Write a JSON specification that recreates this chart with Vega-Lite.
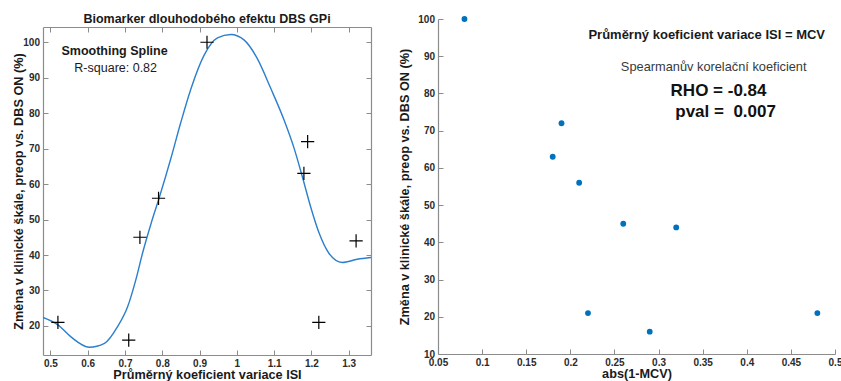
{
  "$schema": "https://vega.github.io/schema/vega-lite/v6.json",
  "padding": {"left": 12, "top": 12, "right": 0, "bottom": 0},
  "spacing": 26,
  "bounds": "full",
  "config": {
    "font": "Liberation Sans",
    "view": {"stroke": null},
    "axis": {
      "grid": false,
      "labelFont": "Liberation Sans",
      "labelFontSize": 10,
      "labelFontWeight": "bold",
      "labelColor": "#2b2b2b",
      "titleFont": "Liberation Sans",
      "titleFontSize": 12.7,
      "titleFontWeight": "bold",
      "titleColor": "#1a1a1a",
      "domainColor": "#8c8c8c",
      "domainWidth": 1.2,
      "tickColor": "#8c8c8c",
      "tickWidth": 1,
      "tickSize": -5,
      "labelPadding": 8.5,
      "labelExpr": "'' + datum.value",
      "labelFlush": false,
      "labelOverlap": false,
      "labelBound": false
    },
    "title": {"font": "Liberation Sans", "fontSize": 12.5, "fontWeight": "bold", "color": "#1a1a1a", "offset": 1.5}
  },
  "datasets": {
    "patients": [
      {"mcv": 0.52, "dmcv": 0.48, "change": 21},
      {"mcv": 0.71, "dmcv": 0.29, "change": 16},
      {"mcv": 0.74, "dmcv": 0.26, "change": 45},
      {"mcv": 0.79, "dmcv": 0.21, "change": 56},
      {"mcv": 0.92, "dmcv": 0.08, "change": 100},
      {"mcv": 1.18, "dmcv": 0.18, "change": 63},
      {"mcv": 1.19, "dmcv": 0.19, "change": 72},
      {"mcv": 1.22, "dmcv": 0.22, "change": 21},
      {"mcv": 1.32, "dmcv": 0.32, "change": 44}
    ],
    "spline": [
      {"mcv": 0.48, "change": 22.4},
      {"mcv": 0.52, "change": 20.3},
      {"mcv": 0.555, "change": 16.9},
      {"mcv": 0.604, "change": 14.0},
      {"mcv": 0.645, "change": 15.1},
      {"mcv": 0.68, "change": 19.8},
      {"mcv": 0.707, "change": 25.4},
      {"mcv": 0.729, "change": 33.0},
      {"mcv": 0.747, "change": 40.5},
      {"mcv": 0.77, "change": 48.9},
      {"mcv": 0.792, "change": 56.2},
      {"mcv": 0.823, "change": 67.2},
      {"mcv": 0.85, "change": 77.5},
      {"mcv": 0.877, "change": 86.9},
      {"mcv": 0.912, "change": 96.3},
      {"mcv": 0.948, "change": 101.2},
      {"mcv": 0.984, "change": 102.2},
      {"mcv": 1.02, "change": 100.6},
      {"mcv": 1.055, "change": 95.4},
      {"mcv": 1.091, "change": 87.0},
      {"mcv": 1.127, "change": 78.0},
      {"mcv": 1.154, "change": 70.0},
      {"mcv": 1.176, "change": 62.0},
      {"mcv": 1.198, "change": 53.6},
      {"mcv": 1.221, "change": 46.1},
      {"mcv": 1.247, "change": 40.5},
      {"mcv": 1.283, "change": 37.9},
      {"mcv": 1.323, "change": 38.8},
      {"mcv": 1.36, "change": 39.3}
    ]
  },
  "hconcat": [
    {
      "width": 328,
      "height": 328,
      "title": {"text": "Biomarker dlouhodobého efektu DBS GPi"},
      "layer": [
        {
          "data": {"name": "spline"},
          "mark": {"type": "line", "interpolate": "monotone", "color": "#2b7fcc", "strokeWidth": 1.4, "clip": true},
          "encoding": {
            "x": {"field": "mcv", "type": "quantitative", "scale": {"domain": [0.48, 1.36], "nice": false, "zero": false},
                  "axis": {"values": [0.5, 0.6, 0.7, 0.8, 0.9, 1, 1.1, 1.2, 1.3], "title": "Průměrný koeficient variace ISI", "titlePadding": 0, "labelOverlap": false}},
            "y": {"field": "change", "type": "quantitative", "scale": {"domain": [11.8, 104.3], "nice": false, "zero": false},
                  "axis": {"values": [20, 30, 40, 50, 60, 70, 80, 90, 100], "title": "Změna v klinické škále, preop vs. DBS ON (%)", "titlePadding": -3, "labelOverlap": false}}
          }
        },
        {
          "data": {"name": "patients"},
          "mark": {"type": "point", "shape": "M-1,0L1,0M0,-1L0,1", "size": 175, "filled": false, "stroke": "#000000", "strokeWidth": 1.2, "opacity": 1},
          "encoding": {
            "x": {"field": "mcv", "type": "quantitative", "scale": {"domain": [0.48, 1.36], "nice": false, "zero": false},
                  "axis": {"orient": "top", "labels": false, "title": null, "values": [0.5, 0.6, 0.7, 0.8, 0.9, 1, 1.1, 1.2, 1.3]}},
            "y": {"field": "change", "type": "quantitative", "scale": {"domain": [11.8, 104.3], "nice": false, "zero": false},
                  "axis": {"orient": "right", "labels": false, "title": null, "values": [20, 30, 40, 50, 60, 70, 80, 90, 100]}}
          }
        },
        {
          "data": {"values": [{"mcv": 0.672, "change": 97.5, "label": "Smoothing Spline"}]},
          "mark": {"type": "text", "font": "Liberation Sans", "fontSize": 12.5, "fontWeight": "bold", "color": "#1a1a1a", "align": "center", "baseline": "middle"},
          "encoding": {
            "x": {"field": "mcv", "type": "quantitative", "scale": {"domain": [0.48, 1.36], "nice": false, "zero": false}, "axis": null},
            "y": {"field": "change", "type": "quantitative", "scale": {"domain": [11.8, 104.3], "nice": false, "zero": false}, "axis": null},
            "text": {"field": "label"}
          }
        },
        {
          "data": {"values": [{"mcv": 0.675, "change": 92.7, "label": "R-square: 0.82"}]},
          "mark": {"type": "text", "font": "Liberation Sans", "fontSize": 12.5, "fontWeight": "normal", "color": "#1a1a1a", "align": "center", "baseline": "middle"},
          "encoding": {
            "x": {"field": "mcv", "type": "quantitative", "scale": {"domain": [0.48, 1.36], "nice": false, "zero": false}, "axis": null},
            "y": {"field": "change", "type": "quantitative", "scale": {"domain": [11.8, 104.3], "nice": false, "zero": false}, "axis": null},
            "text": {"field": "label"}
          }
        }
      ],
      "resolve": {"axis": {"x": "independent", "y": "independent"}}
    },
    {
      "width": 397,
      "height": 327,
      "layer": [
        {
          "data": {"name": "patients"},
          "mark": {"type": "circle", "size": 34, "color": "#0072BD", "opacity": 1},
          "encoding": {
            "x": {"field": "dmcv", "type": "quantitative", "scale": {"domain": [0.05, 0.5], "nice": false, "zero": false},
                  "axis": {"values": [0.05, 0.1, 0.15, 0.2, 0.25, 0.3, 0.35, 0.4, 0.45, 0.5], "title": "abs(1-MCV)", "titlePadding": 0, "labelOverlap": false}},
            "y": {"field": "change", "type": "quantitative", "scale": {"domain": [10, 100], "range": [327, -8], "nice": false, "zero": false},
                  "axis": {"values": [10, 20, 30, 40, 50, 60, 70, 80, 90, 100], "title": "Změna v klinické škále, preop vs. DBS ON (%)", "titlePadding": 6.5, "labelOverlap": false}}
          }
        },
        {
          "data": {"values": [{"dmcv": 0.3546, "change": 95.7, "label": "Průměrný koeficient variace ISI = MCV"}]},
          "mark": {"type": "text", "font": "Liberation Sans", "fontSize": 13, "fontWeight": "bold", "color": "#1a1a1a", "align": "center", "baseline": "middle"},
          "encoding": {
            "x": {"field": "dmcv", "type": "quantitative", "scale": {"domain": [0.05, 0.5], "nice": false, "zero": false}, "axis": null},
            "y": {"field": "change", "type": "quantitative", "scale": {"domain": [10, 100], "range": [327, -8], "nice": false, "zero": false}, "axis": null},
            "text": {"field": "label"}
          }
        },
        {
          "data": {"values": [{"dmcv": 0.3625, "change": 87.1, "label": "Spearmanův korelační koeficient"}]},
          "mark": {"type": "text", "font": "Liberation Sans", "fontSize": 12.8, "fontWeight": "normal", "color": "#3a3a3a", "align": "center", "baseline": "middle"},
          "encoding": {
            "x": {"field": "dmcv", "type": "quantitative", "scale": {"domain": [0.05, 0.5], "nice": false, "zero": false}, "axis": null},
            "y": {"field": "change", "type": "quantitative", "scale": {"domain": [10, 100], "range": [327, -8], "nice": false, "zero": false}, "axis": null},
            "text": {"field": "label"}
          }
        },
        {
          "data": {"values": [{"dmcv": 0.368, "change": 80.7, "label": "RHO = -0.84"}, {"dmcv": 0.376, "change": 75.0, "label": "pval = \u00a00.007"}]},
          "mark": {"type": "text", "font": "Liberation Sans", "fontSize": 17, "fontWeight": "bold", "color": "#111111", "align": "center", "baseline": "middle"},
          "encoding": {
            "x": {"field": "dmcv", "type": "quantitative", "scale": {"domain": [0.05, 0.5], "nice": false, "zero": false}, "axis": null},
            "y": {"field": "change", "type": "quantitative", "scale": {"domain": [10, 100], "range": [327, -8], "nice": false, "zero": false}, "axis": null},
            "text": {"field": "label"}
          }
        }
      ],
      "resolve": {"axis": {"x": "independent", "y": "independent"}}
    }
  ]
}
